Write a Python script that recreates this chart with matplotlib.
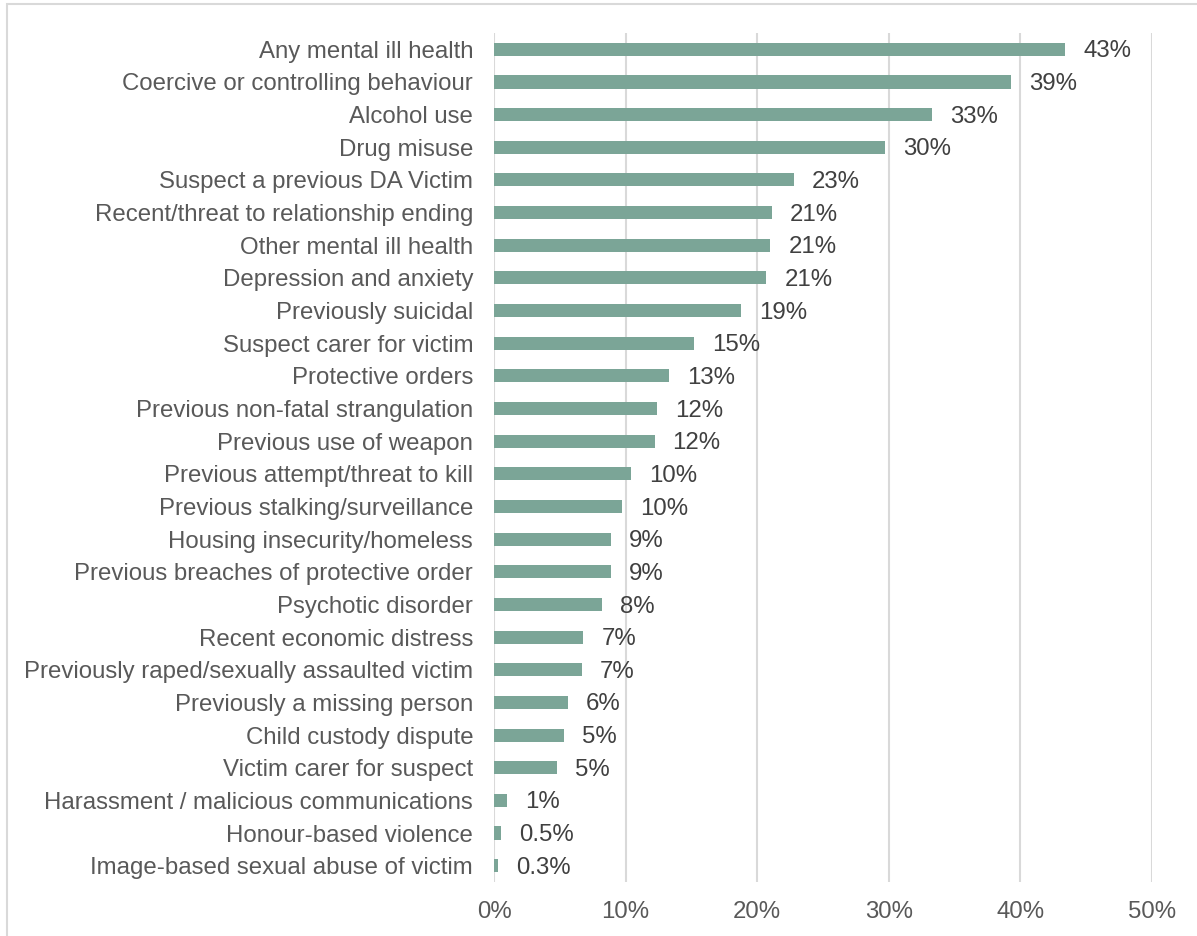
import matplotlib.pyplot as plt
from matplotlib.patches import Rectangle

plt.rcParams['font.family'] = ['Liberation Sans', 'DejaVu Sans']

factors = [
    'Any mental ill health',
    'Coercive or controlling behaviour',
    'Alcohol use',
    'Drug misuse',
    'Suspect a previous DA Victim',
    'Recent/threat to relationship ending',
    'Other mental ill health',
    'Depression and anxiety',
    'Previously suicidal',
    'Suspect carer for victim',
    'Protective orders',
    'Previous non-fatal strangulation',
    'Previous use of weapon',
    'Previous attempt/threat to kill',
    'Previous stalking/surveillance',
    'Housing insecurity/homeless',
    'Previous breaches of protective order',
    'Psychotic disorder',
    'Recent economic distress',
    'Previously raped/sexually assaulted victim',
    'Previously a missing person',
    'Child custody dispute',
    'Victim carer for suspect',
    'Harassment / malicious communications',
    'Honour-based violence',
    'Image-based sexual abuse of victim',
]
pct = [43.4, 39.3, 33.3, 29.7, 22.8, 21.1, 21.0, 20.7, 18.8, 15.2,
       13.3, 12.4, 12.2, 10.4, 9.7, 8.9, 8.9, 8.2, 6.8, 6.7,
       5.6, 5.3, 4.8, 1.0, 0.5, 0.3]
xticks = [0, 10, 20, 30, 40, 50]

W, H = 1197, 936
FS = 17.3
fig = plt.figure(figsize=(W / 100, H / 100), dpi=100)
ax = fig.add_axes([494 / W, 1 - 882 / H, (1152 - 494) / W, (882 - 33) / H])

ypos = range(len(factors))
ax.barh(ypos, pct, height=0.4, color='#7BA597', zorder=3)

for y, v in zip(ypos, pct):
    txt = f'{v:.1f}%' if v < 1 else f'{v:.0f}%'
    ax.annotate(txt, (v, y), xytext=(13, -1.5), textcoords='offset points',
                ha='left', va='center', fontsize=FS, color='#404040')

ax.set_ylim(len(factors) - 0.5, -0.5)
ax.set_yticks(list(ypos))
ax.set_yticklabels(factors, fontsize=FS, color='#595959')
ax.set_xlim(0, 50)
ax.set_xticks(xticks)
ax.set_xticklabels([f'{t}%' for t in xticks], fontsize=FS, color='#595959')
ax.tick_params(axis='both', length=0)
ax.tick_params(axis='y', pad=15)
ax.tick_params(axis='x', pad=14)
ax.grid(axis='x', color='#D9D9D9', linewidth=1.5, zorder=0)
for s in ax.spines.values():
    s.set_visible(False)

# thin grey frame round the chart area
fig.patches.append(Rectangle((6.5 / W, -0.1), 1.2, 1 - 4.5 / H + 0.1,
                             transform=fig.transFigure, fill=False,
                             edgecolor='#D9D9D9', linewidth=1.5))

fig.savefig('out.png', dpi=100, facecolor='white')
